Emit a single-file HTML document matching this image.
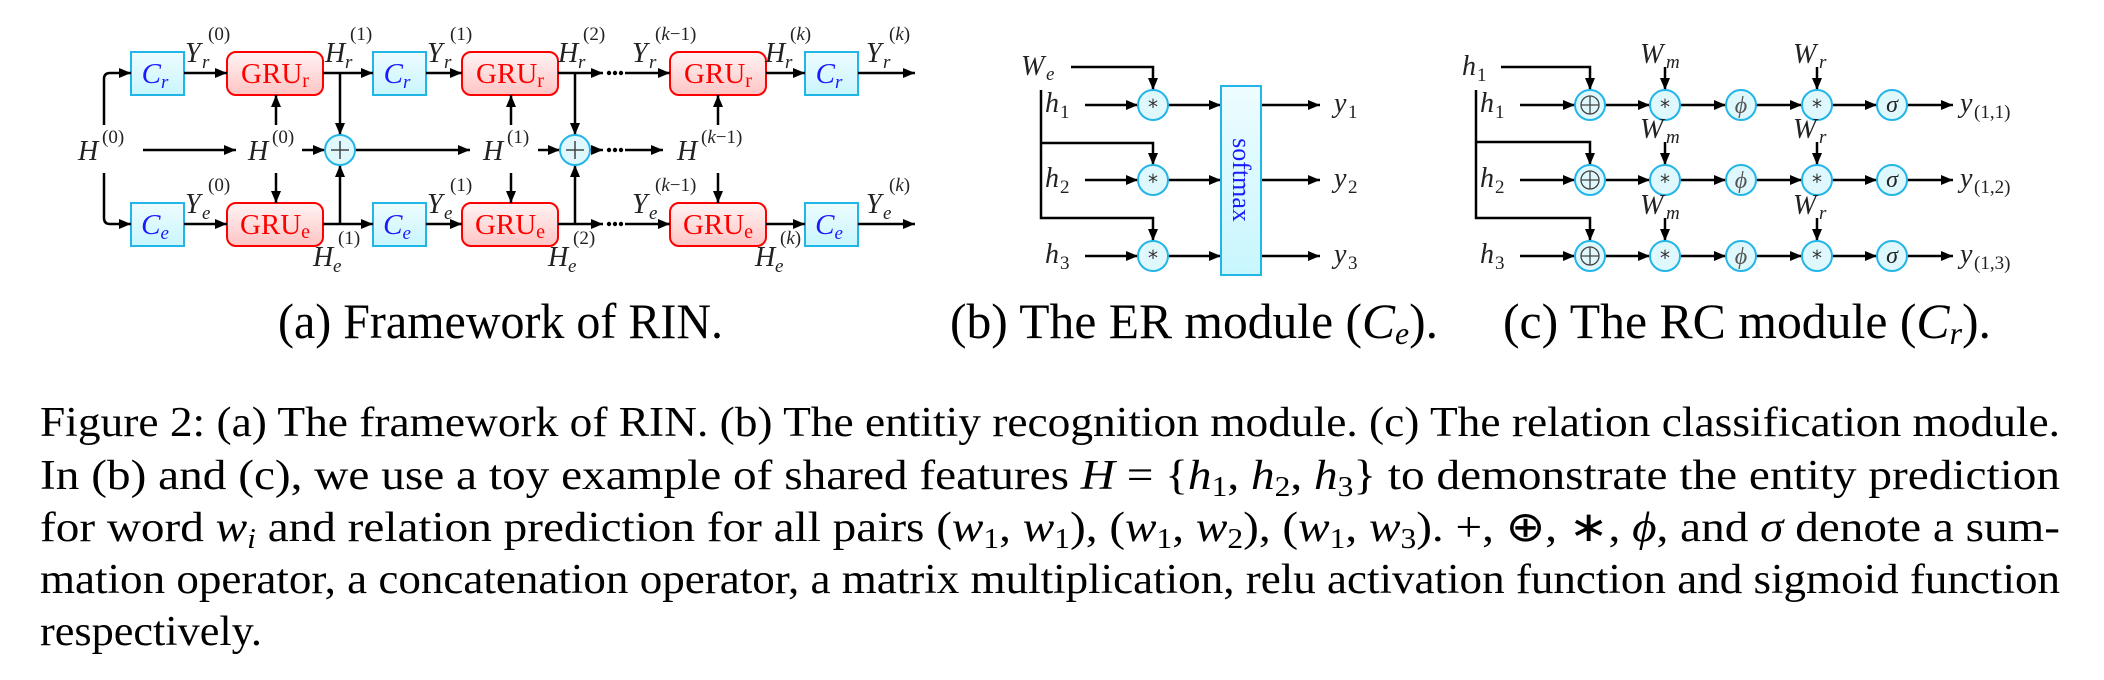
<!DOCTYPE html>
<html><head><meta charset="utf-8"><style>
html,body{margin:0;padding:0;background:#fff;}
#w{position:relative;width:2104px;height:680px;overflow:hidden;}
svg{position:absolute;left:0;top:0;}
.m{font-family:"Liberation Serif",serif;font-style:italic;font-size:28px;fill:#222;}
.s{font-family:"Liberation Serif",serif;font-style:italic;font-size:19px;fill:#222;}
.n{font-family:"Liberation Serif",serif;font-size:19px;fill:#222;}
.g{font-family:"Liberation Serif",serif;font-size:29px;fill:#f00;}
.c{font-family:"Liberation Serif",serif;font-style:italic;font-size:29px;fill:#1a1aff;}
.cap{font-family:"Liberation Serif",serif;font-size:50px;fill:#000;}
.p{font-family:"Liberation Serif",serif;font-size:42px;fill:#000;}
.L{stroke:#000;stroke-width:2.5;fill:none;}
.ci{fill:#dff8fd;stroke:#22b5e8;stroke-width:2;}
.op{font-family:"DejaVu Sans",sans-serif;font-size:20px;fill:#333;}
</style></head><body><div id="w">
<svg width="2104" height="680" viewBox="0 0 2104 680">
<defs>
<marker id="a" markerUnits="userSpaceOnUse" markerWidth="12" markerHeight="10" refX="12" refY="5" orient="auto"><path d="M0,0 L12,5 L0,10 z" fill="#000"/></marker>
<linearGradient id="cb" x1="0" y1="0" x2="0" y2="1"><stop offset="0" stop-color="#eefcff"/><stop offset="1" stop-color="#c8f6fd"/></linearGradient>
<linearGradient id="gb" x1="0" y1="0" x2="0" y2="1"><stop offset="0" stop-color="#fff4f4"/><stop offset="1" stop-color="#ffc4c4"/></linearGradient>
</defs>

<!-- ===== (a) ===== -->
<g fill="url(#cb)" stroke="#22b5e8" stroke-width="2">
<rect x="131" y="52" width="53" height="43"/><rect x="373" y="52" width="53" height="43"/><rect x="805" y="52" width="53" height="43"/>
<rect x="131" y="203" width="53" height="43"/><rect x="373" y="203" width="53" height="43"/><rect x="805" y="203" width="53" height="43"/>
</g>
<g fill="url(#gb)" stroke="#f00" stroke-width="2">
<rect x="227" y="52" width="96" height="43" rx="9"/><rect x="462" y="52" width="96" height="43" rx="9"/><rect x="670" y="52" width="96" height="43" rx="9"/>
<rect x="227" y="203" width="96" height="43" rx="9"/><rect x="462" y="203" width="96" height="43" rx="9"/><rect x="670" y="203" width="96" height="43" rx="9"/>
</g>
<g class="c" text-anchor="middle">
<text x="155" y="83">C<tspan class="s" style="fill:#1a1aff" dy="5">r</tspan></text>
<text x="397" y="83">C<tspan class="s" style="fill:#1a1aff" dy="5">r</tspan></text>
<text x="829" y="83">C<tspan class="s" style="fill:#1a1aff" dy="5">r</tspan></text>
<text x="155" y="234">C<tspan class="s" style="fill:#1a1aff" dy="5">e</tspan></text>
<text x="397" y="234">C<tspan class="s" style="fill:#1a1aff" dy="5">e</tspan></text>
<text x="829" y="234">C<tspan class="s" style="fill:#1a1aff" dy="5">e</tspan></text>
</g>
<g class="g" text-anchor="middle">
<text x="275" y="83">GRU<tspan font-size="20" dy="4">r</tspan></text>
<text x="510" y="83">GRU<tspan font-size="20" dy="4">r</tspan></text>
<text x="718" y="83">GRU<tspan font-size="20" dy="4">r</tspan></text>
<text x="275" y="234">GRU<tspan font-size="20" dy="4">e</tspan></text>
<text x="510" y="234">GRU<tspan font-size="20" dy="4">e</tspan></text>
<text x="718" y="234">GRU<tspan font-size="20" dy="4">e</tspan></text>
</g>
<g class="L">
<path d="M104,125 V79 Q104,73 110,73 H131" marker-end="url(#a)"/>
<path d="M104,173 V218 Q104,224 110,224 H131" marker-end="url(#a)"/>
<path d="M184,73 H227" marker-end="url(#a)"/><path d="M323,73 H373" marker-end="url(#a)"/>
<path d="M426,73 H462" marker-end="url(#a)"/><path d="M558,73 H603" marker-end="url(#a)"/>
<path d="M625,73 H670" marker-end="url(#a)"/><path d="M766,73 H805" marker-end="url(#a)"/>
<path d="M858,73 H915" marker-end="url(#a)"/>
<path d="M184,224 H227" marker-end="url(#a)"/><path d="M323,224 H373" marker-end="url(#a)"/>
<path d="M426,224 H462" marker-end="url(#a)"/><path d="M558,224 H603" marker-end="url(#a)"/>
<path d="M625,224 H670" marker-end="url(#a)"/><path d="M766,224 H805" marker-end="url(#a)"/>
<path d="M858,224 H915" marker-end="url(#a)"/>
<path d="M143,150 H236" marker-end="url(#a)"/><path d="M302,150 H325" marker-end="url(#a)"/>
<path d="M355,150 H470" marker-end="url(#a)"/><path d="M538,150 H560" marker-end="url(#a)"/>
<path d="M590,150 H603" marker-end="url(#a)"/><path d="M625,150 H663" marker-end="url(#a)"/>
<path d="M276,125 V95" marker-end="url(#a)"/><path d="M276,173 V203" marker-end="url(#a)"/>
<path d="M511,125 V95" marker-end="url(#a)"/><path d="M511,173 V203" marker-end="url(#a)"/>
<path d="M718,125 V95" marker-end="url(#a)"/><path d="M718,173 V203" marker-end="url(#a)"/>
<path d="M340,73 V135" marker-end="url(#a)"/><path d="M340,224 V165" marker-end="url(#a)"/>
<path d="M575,73 V135" marker-end="url(#a)"/><path d="M575,224 V165" marker-end="url(#a)"/>
</g>
<g fill="#000">
<circle cx="609" cy="73" r="2.2"/><circle cx="615" cy="73" r="2.2"/><circle cx="621" cy="73" r="2.2"/>
<circle cx="609" cy="224" r="2.2"/><circle cx="615" cy="224" r="2.2"/><circle cx="621" cy="224" r="2.2"/>
<circle cx="609" cy="150" r="2.2"/><circle cx="615" cy="150" r="2.2"/><circle cx="621" cy="150" r="2.2"/>
</g>
<circle class="ci" cx="340" cy="150" r="15"/><circle class="ci" cx="575" cy="150" r="15"/>
<g stroke="#444" stroke-width="1.5"><path d="M331,150 H349 M340,141 V159 M566,150 H584 M575,141 V159"/></g>
<text class="m" x="78" y="160">H</text><text class="n" x="102" y="143">(0)</text>
<text class="m" x="248" y="160">H</text><text class="n" x="272" y="143">(0)</text>
<text class="m" x="483" y="160">H</text><text class="n" x="507" y="143">(1)</text>
<text class="m" x="677" y="160">H</text><text class="n" x="701" y="143">(<tspan class="s">k</tspan>−1)</text>
<text class="m" x="185" y="62">Y</text><text class="s" x="202" y="68">r</text><text class="n" x="208" y="40">(0)</text>
<text class="m" x="325" y="62">H</text><text class="s" x="345" y="68">r</text><text class="n" x="350" y="40">(1)</text>
<text class="m" x="427" y="62">Y</text><text class="s" x="444" y="68">r</text><text class="n" x="450" y="40">(1)</text>
<text class="m" x="558" y="62">H</text><text class="s" x="578" y="68">r</text><text class="n" x="583" y="40">(2)</text>
<text class="m" x="632" y="62">Y</text><text class="s" x="649" y="68">r</text><text class="n" x="655" y="40">(<tspan class="s">k</tspan>−1)</text>
<text class="m" x="765" y="62">H</text><text class="s" x="785" y="68">r</text><text class="n" x="790" y="40">(<tspan class="s">k</tspan>)</text>
<text class="m" x="866" y="62">Y</text><text class="s" x="883" y="68">r</text><text class="n" x="889" y="40">(<tspan class="s">k</tspan>)</text>
<text class="m" x="185" y="213">Y</text><text class="s" x="202" y="219">e</text><text class="n" x="208" y="191">(0)</text>
<text class="m" x="313" y="266">H</text><text class="s" x="333" y="272">e</text><text class="n" x="338" y="244">(1)</text>
<text class="m" x="427" y="213">Y</text><text class="s" x="444" y="219">e</text><text class="n" x="450" y="191">(1)</text>
<text class="m" x="548" y="266">H</text><text class="s" x="568" y="272">e</text><text class="n" x="573" y="244">(2)</text>
<text class="m" x="632" y="213">Y</text><text class="s" x="649" y="219">e</text><text class="n" x="655" y="191">(<tspan class="s">k</tspan>−1)</text>
<text class="m" x="755" y="266">H</text><text class="s" x="775" y="272">e</text><text class="n" x="780" y="244">(<tspan class="s">k</tspan>)</text>
<text class="m" x="866" y="213">Y</text><text class="s" x="883" y="219">e</text><text class="n" x="889" y="191">(<tspan class="s">k</tspan>)</text>

<!-- ===== (b) ===== -->
<text class="m" x="1021" y="75">W</text><text class="s" x="1046" y="80">e</text>
<g class="L">
<path d="M1071,67 H1153 V90" marker-end="url(#a)"/>
<path d="M1041,90 V218 H1153 V241" marker-end="url(#a)"/>
<path d="M1041,143 H1153 V165" marker-end="url(#a)"/>
<path d="M1085,105 H1138" marker-end="url(#a)"/><path d="M1085,180 H1138" marker-end="url(#a)"/><path d="M1085,256 H1138" marker-end="url(#a)"/>
<path d="M1168,105 H1221" marker-end="url(#a)"/><path d="M1168,180 H1221" marker-end="url(#a)"/><path d="M1168,256 H1221" marker-end="url(#a)"/>
<path d="M1261,105 H1320" marker-end="url(#a)"/><path d="M1261,180 H1320" marker-end="url(#a)"/><path d="M1261,256 H1320" marker-end="url(#a)"/>
</g>
<rect x="1221" y="86" width="40" height="189" fill="url(#cb)" stroke="#22b5e8" stroke-width="2"/>
<text x="1241" y="180" transform="rotate(90 1241 180)" text-anchor="middle" dy="8" font-family="Liberation Serif,serif" font-size="26" fill="#1a1aff">softmax</text>
<g><circle class="ci" cx="1153" cy="105" r="15"/><circle class="ci" cx="1153" cy="180" r="15"/><circle class="ci" cx="1153" cy="256" r="15"/></g>
<g class="op" text-anchor="middle"><text x="1153" y="114">*</text><text x="1153" y="189">*</text><text x="1153" y="265">*</text></g>
<text class="m" x="1045" y="112">h</text><text class="n" x="1060" y="118">1</text>
<text class="m" x="1045" y="187">h</text><text class="n" x="1060" y="193">2</text>
<text class="m" x="1045" y="263">h</text><text class="n" x="1060" y="269">3</text>
<text class="m" x="1334" y="112">y</text><text class="n" x="1348" y="118">1</text>
<text class="m" x="1334" y="187">y</text><text class="n" x="1348" y="193">2</text>
<text class="m" x="1334" y="263">y</text><text class="n" x="1348" y="269">3</text>

<!-- ===== (c) ===== -->
<text class="m" x="1462" y="75">h</text><text class="n" x="1477" y="81">1</text>
<g class="L">
<path d="M1501,67 H1590 V90" marker-end="url(#a)"/>
<path d="M1476,90 V218 H1590 V241" marker-end="url(#a)"/>
<path d="M1476,142 H1590 V165" marker-end="url(#a)"/>
</g>
<g id="row1">
<g class="L">
<path d="M1520,105 H1575" marker-end="url(#a)"/><path d="M1605,105 H1650" marker-end="url(#a)"/>
<path d="M1680,105 H1726" marker-end="url(#a)"/><path d="M1756,105 H1802" marker-end="url(#a)"/>
<path d="M1832,105 H1877" marker-end="url(#a)"/><path d="M1907,105 H1953" marker-end="url(#a)"/>
<path d="M1665,67 V90" marker-end="url(#a)"/><path d="M1817,67 V90" marker-end="url(#a)"/>
</g>
<circle class="ci" cx="1590" cy="105" r="15"/><circle class="ci" cx="1665" cy="105" r="15"/><circle class="ci" cx="1741" cy="105" r="15"/><circle class="ci" cx="1817" cy="105" r="15"/><circle class="ci" cx="1892" cy="105" r="15"/>
<circle cx="1590" cy="105" r="9" fill="none" stroke="#444" stroke-width="1.3"/><path d="M1581,105 H1599 M1590,96 V114" stroke="#444" stroke-width="1.3"/>
<g class="op" text-anchor="middle"><text x="1665" y="114">*</text><text x="1817" y="114">*</text></g>
<text x="1741" y="113" text-anchor="middle" class="m" style="fill:#555;font-size:24px">ϕ</text>
<text x="1892" y="112" text-anchor="middle" class="m" style="font-size:24px">σ</text>
<text class="m" x="1640" y="63">W</text><text class="s" x="1666" y="68">m</text>
<text class="m" x="1793" y="63">W</text><text class="s" x="1819" y="68">r</text>
</g>
<use href="#row1" transform="translate(0,75)"/>
<use href="#row1" transform="translate(0,151)"/>
<text class="m" x="1480" y="112">h</text><text class="n" x="1495" y="118">1</text>
<text class="m" x="1480" y="187">h</text><text class="n" x="1495" y="193">2</text>
<text class="m" x="1480" y="263">h</text><text class="n" x="1495" y="269">3</text>
<text class="m" x="1960" y="112">y</text><text class="n" x="1974" y="118">(1,1)</text>
<text class="m" x="1960" y="187">y</text><text class="n" x="1974" y="193">(1,2)</text>
<text class="m" x="1960" y="263">y</text><text class="n" x="1974" y="269">(1,3)</text>

<!-- sub captions -->
<text class="cap" x="278" y="338" textLength="445" lengthAdjust="spacingAndGlyphs">(a) Framework of RIN.</text>
<text class="cap" x="950" y="338" textLength="488" lengthAdjust="spacingAndGlyphs">(b) The ER module (<tspan font-style="italic">C</tspan><tspan font-style="italic" font-size="32" dy="6">e</tspan><tspan dy="-6">).</tspan></text>
<text class="cap" x="1503" y="338" textLength="488" lengthAdjust="spacingAndGlyphs">(c) The RC module (<tspan font-style="italic">C</tspan><tspan font-style="italic" font-size="32" dy="6">r</tspan><tspan dy="-6">).</tspan></text>

<!-- figure caption -->
<text class="p" x="40" y="436" textLength="2020" lengthAdjust="spacingAndGlyphs">Figure 2: (a) The framework of RIN. (b) The entitiy recognition module. (c) The relation classification module.</text>
<text class="p" x="40" y="489" textLength="2020" lengthAdjust="spacingAndGlyphs">In (b) and (c), we use a toy example of shared features <tspan font-style="italic">H</tspan> = {<tspan font-style="italic">h</tspan><tspan font-size="28" dy="7">1</tspan><tspan dy="-7">, </tspan><tspan font-style="italic">h</tspan><tspan font-size="28" dy="7">2</tspan><tspan dy="-7">, </tspan><tspan font-style="italic">h</tspan><tspan font-size="28" dy="7">3</tspan><tspan dy="-7">} to demonstrate the entity prediction</tspan></text>
<text class="p" x="40" y="541" textLength="2020" lengthAdjust="spacingAndGlyphs">for word <tspan font-style="italic">w</tspan><tspan font-style="italic" font-size="28" dy="7">i</tspan><tspan dy="-7"> and relation prediction for all pairs (</tspan><tspan font-style="italic">w</tspan><tspan font-size="28" dy="7">1</tspan><tspan dy="-7">, </tspan><tspan font-style="italic">w</tspan><tspan font-size="28" dy="7">1</tspan><tspan dy="-7">), (</tspan><tspan font-style="italic">w</tspan><tspan font-size="28" dy="7">1</tspan><tspan dy="-7">, </tspan><tspan font-style="italic">w</tspan><tspan font-size="28" dy="7">2</tspan><tspan dy="-7">), (</tspan><tspan font-style="italic">w</tspan><tspan font-size="28" dy="7">1</tspan><tspan dy="-7">, </tspan><tspan font-style="italic">w</tspan><tspan font-size="28" dy="7">3</tspan><tspan dy="-7">). +, ⊕, ∗, </tspan><tspan font-style="italic">ϕ</tspan>, and <tspan font-style="italic">σ</tspan> denote a sum-</text>
<text class="p" x="40" y="593" textLength="2020" lengthAdjust="spacingAndGlyphs">mation operator, a concatenation operator, a matrix multiplication, relu activation function and sigmoid function</text>
<text class="p" x="40" y="645" textLength="222" lengthAdjust="spacingAndGlyphs">respectively.</text>
</svg>
</div></body></html>
